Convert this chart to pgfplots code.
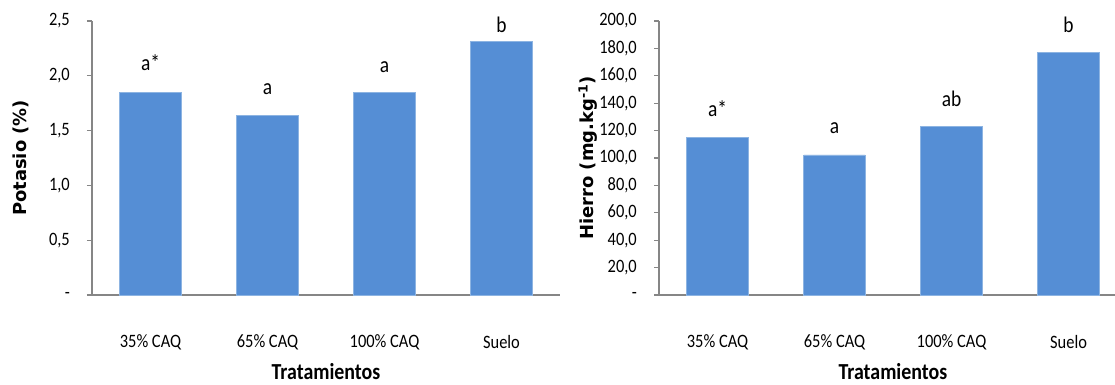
\documentclass[border=0pt]{standalone}
\usepackage{graphicx}
\usepackage{pgfplots}
\pgfplotsset{compat=1.18}
\usepackage{fontspec}
\setmainfont{Carlito}
\newfontfamily\dvs{DejaVu Sans}
\definecolor{barblue}{HTML}{558ED5}
\definecolor{baredge}{HTML}{8DB4E2}
\definecolor{axgray}{HTML}{868686}
\newcommand\vs[1]{\scalebox{1}[1.15]{#1}}
\tikzset{letter/.style={anchor=base, font=\fontsize{19.5}{24}\selectfont}}
\pgfplotsset{
  mybar/.style={
    scale only axis,
    height=274bp,
    ybar, bar width=0.525,
    axis x line*=bottom, axis y line*=left,
    x axis line style={-, draw=axgray, line width=2.5bp},
    y axis line style={-, draw=axgray, line width=1.5bp},
    xmin=-0.5,
    xtick={0,1,2,3},
    xticklabels={\vs{35\% CAQ}, \vs{65\% CAQ}, \vs{100\% CAQ}, \vs{Suelo}},
    x tick style={draw=none},
    y tick style={draw=axgray, line width=1.2bp},
    tick align=outside,
    major tick length=5bp,
    xticklabel style={anchor=center, yshift=-42bp, font=\fontsize{16.5}{20}\selectfont},
    yticklabel style={anchor=east, inner sep=0pt, xshift=-17bp, font=\fontsize{16.5}{20}\selectfont},
    xlabel={\vs{Tratamientos}},
    clip=false,
  },
}
\begin{document}
\begin{tikzpicture}
\useasboundingbox (0,0) rectangle (1115bp,385bp);
% Left panel: Potasio
\begin{axis}[mybar,
  at={(92bp,90bp)}, anchor=south west,
  width=468bp, xmax=3.5,
  ymin=0, ymax=2.5,
  ytick={0,0.5,1,1.5,2,2.5},
  yticklabels={{\vs{-}\hspace{8bp}},{\vs{0,5}},{\vs{1,0}},{\vs{1,5}},{\vs{2,0}},{\vs{2,5}}},
  ylabel={Potasio (\%)},
  every axis y label/.style={at={(axis description cs:-0.1528,0.5)}, rotate=90, anchor=center, font=\dvs\fontsize{18}{22}\selectfont\bfseries},
  every axis x label/.style={at={(axis description cs:0.5,-0.279)}, anchor=center, font=\fontsize{20}{24}\selectfont\bfseries},
]
\addplot[fill=barblue, draw=baredge, line width=0.8bp] coordinates {(0,1.85) (1,1.635) (2,1.85) (3,2.31)};
\node[letter] at (axis cs:0,2.047) {\vs{a*}};
\node[letter] at (axis cs:1,1.825) {\vs{a}};
\node[letter] at (axis cs:2,2.032) {\vs{a}};
\node[letter] at (axis cs:3,2.397) {\vs{b}};
\end{axis}
% Right panel: Hierro
\begin{axis}[mybar,
  at={(659bp,90bp)}, anchor=south west,
  width=456bp, xmax=3.397,
  ymin=0, ymax=200,
  ytick={0,20,40,60,80,100,120,140,160,180,200},
  yticklabels={{\vs{-}\hspace{8bp}},{\vs{20,0}},{\vs{40,0}},{\vs{60,0}},{\vs{80,0}},{\vs{100,0}},{\vs{120,0}},{\vs{140,0}},{\vs{160,0}},{\vs{180,0}},{\vs{200,0}}},
  ylabel={Hierro (mg.kg\textsuperscript{-1})},
  every axis y label/.style={at={(axis description cs:-0.1557,0.5)}, rotate=90, anchor=center, font=\dvs\fontsize{18}{22}\selectfont\bfseries},
  every axis x label/.style={at={(axis description cs:0.513,-0.279)}, anchor=center, font=\fontsize{20}{24}\selectfont\bfseries},
]
\addplot[fill=barblue, draw=baredge, line width=0.8bp] coordinates {(0,115.1) (1,102.2) (2,122.9) (3,177.2)};
\node[letter] at (axis cs:0,130.1) {\vs{a*}};
\node[letter] at (axis cs:1,118) {\vs{a}};
\node[letter] at (axis cs:2,137.4) {\vs{ab}};
\node[letter] at (axis cs:3,191.7) {\vs{b}};
\end{axis}
\end{tikzpicture}
\end{document}
